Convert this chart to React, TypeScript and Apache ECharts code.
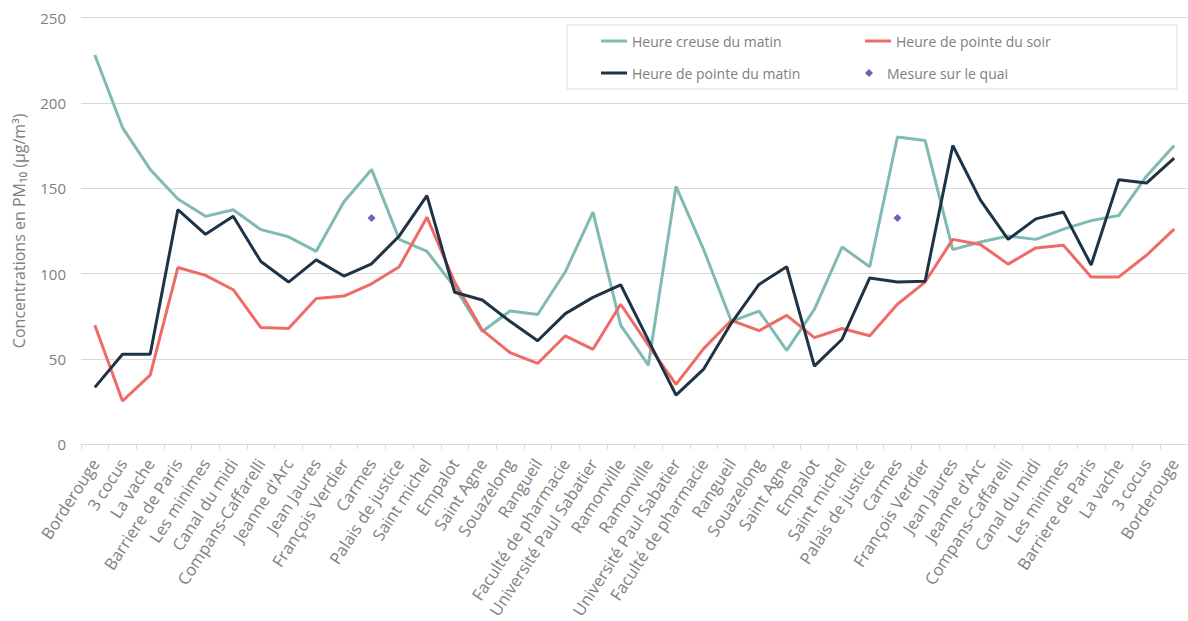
import React, { useEffect, useRef } from "react";
import * as echarts from "echarts";

const categories = [
  "Borderouge", "3 cocus", "La vache", "Barriere de Paris", "Les minimes", "Canal du midi",
  "Compans-Caffarelli", "Jeanne d'Arc", "Jean Jaures", "François Verdier", "Carmes",
  "Palais de justice", "Saint michel", "Empalot", "Saint Agne", "Souazelong", "Rangueil",
  "Faculté de pharmacie", "Université Paul Sabatier", "Ramonville", "Ramonville",
  "Université Paul Sabatier", "Faculté de pharmacie", "Rangueil", "Souazelong", "Saint Agne",
  "Empalot", "Saint michel", "Palais de justice", "Carmes", "François Verdier", "Jean Jaures",
  "Jeanne d'Arc", "Compans-Caffarelli", "Canal du midi", "Les minimes", "Barriere de Paris",
  "La vache", "3 cocus", "Borderouge",
];

const heureCreuseMatin = [
  228, 185.5, 161, 143.6, 133.5, 137.4, 125.7, 121.5, 113, 142, 161, 120, 113, 92, 66, 78, 76,
  101, 136, 69.7, 46.3, 151, 114, 72, 78, 55, 79, 115.5, 104, 180, 178, 114, 118.5, 122, 120,
  126, 131, 134, 157, 175,
];

const heurePointeSoir = [
  69.7, 25.3, 40.5, 103.5, 98.9, 90.5, 68.3, 67.8, 85.3, 86.8, 94, 104, 133, 95, 66.8, 53.7,
  47.3, 63.5, 55.6, 82, 58, 35, 56, 72.6, 66.5, 75.5, 62.4, 67.8, 63.5, 82, 95, 120, 117, 105.5,
  115, 116.5, 98, 98, 110.7, 126,
];

const heurePointeMatin = [
  33.3, 52.7, 52.7, 137.4, 123, 133.5, 107, 95, 108, 98.5, 105.7, 122, 145.6, 89, 84.5, 72,
  60.6, 76.5, 86, 93.4, 61, 28.8, 44, 71, 93.6, 104, 45.7, 61.5, 97.4, 95, 95.5, 175, 143, 120,
  132, 136, 105, 155, 153, 167.6,
];

const quaiIndex = [10, 29];
const quaiValue = [132.5, 132.5];

const yTicks = { min: 0, max: 250, interval: 50 };

const FONT = "'Open Sans', 'Noto Sans', sans-serif";
const GRAY = "#808080";
const LINE_ICON = "path://M0,0H26V3H0Z";
const DIAMOND_ICON = "path://M4,0L8,4L4,8L0,4Z";

export default function App() {
  const ref = useRef<HTMLDivElement>(null);

  useEffect(() => {
    if (!ref.current) return;
    const chart = echarts.init(ref.current, undefined, { renderer: "svg" });
    chart.setOption({
      animation: false,
      backgroundColor: "#ffffff",
      textStyle: { fontFamily: FONT },
      grid: { left: 81, right: -2, top: 17.5, bottom: 175, containLabel: false },
      legend: {
        left: 567,
        top: 25,
        orient: "horizontal",
        width: 530,
        padding: [5, 58, 5, 34],
        borderColor: "#dedede",
        borderWidth: 1,
        itemWidth: 26,
        itemHeight: 8,
        itemGap: 10,
        symbolKeepAspect: true,
        textStyle: { color: GRAY, fontSize: 14, fontFamily: FONT, width: 223, lineHeight: 22 },
        data: [
          { name: "Heure creuse du matin", icon: LINE_ICON },
          { name: "Heure de pointe du soir", icon: LINE_ICON },
          { name: "Heure de pointe du matin", icon: LINE_ICON },
          { name: "Mesure sur le quai", icon: DIAMOND_ICON },
        ],
      },
      xAxis: {
        type: "category",
        data: categories,
        boundaryGap: true,
        axisLine: { lineStyle: { color: "#d9d9d9", width: 1 } },
        axisTick: { show: true, length: 5, lineStyle: { color: "#d9d9d9" } },
        axisLabel: {
          interval: 0,
          rotate: 57,
          margin: 16,
          color: GRAY,
          fontSize: 16.5,
          fontFamily: FONT,
        },
      },
      yAxis: {
        type: "value",
        min: yTicks.min,
        max: yTicks.max,
        interval: yTicks.interval,
        name: "Concentrations en PM₁₀ (µg/m³)",
        nameLocation: "middle",
        nameGap: 54,
        nameTextStyle: { color: GRAY, fontSize: 16, fontFamily: FONT },
        axisLine: { show: false },
        axisTick: { show: false },
        axisLabel: { color: GRAY, fontSize: 15, margin: 15, fontFamily: FONT },
        splitLine: { lineStyle: { color: "#d9d9d9", width: 1 } },
      },
      series: [
        {
          name: "Heure creuse du matin",
          type: "line",
          data: heureCreuseMatin,
          symbol: "none",
          showSymbol: false,
          lineStyle: { color: "#80bab5", width: 3 },
          itemStyle: { color: "#80bab5" },
        },
        {
          name: "Heure de pointe du soir",
          type: "line",
          data: heurePointeSoir,
          symbol: "none",
          showSymbol: false,
          lineStyle: { color: "#ee6b66", width: 3 },
          itemStyle: { color: "#ee6b66" },
        },
        {
          name: "Heure de pointe du matin",
          type: "line",
          data: heurePointeMatin,
          symbol: "none",
          showSymbol: false,
          lineStyle: { color: "#1f3346", width: 3 },
          itemStyle: { color: "#1f3346" },
        },
        {
          name: "Mesure sur le quai",
          type: "scatter",
          data: quaiIndex.map((idx, k) => [idx, quaiValue[k]]),
          symbol: "diamond",
          symbolSize: 8,
          itemStyle: { color: "#3b3fa6" },
          z: 5,
        },
      ],
    });
    return () => chart.dispose();
  }, []);

  return (
    <div
      ref={ref}
      style={{ position: "absolute", left: 0, top: 0, width: 1188, height: 621 }}
    />
  );
}
